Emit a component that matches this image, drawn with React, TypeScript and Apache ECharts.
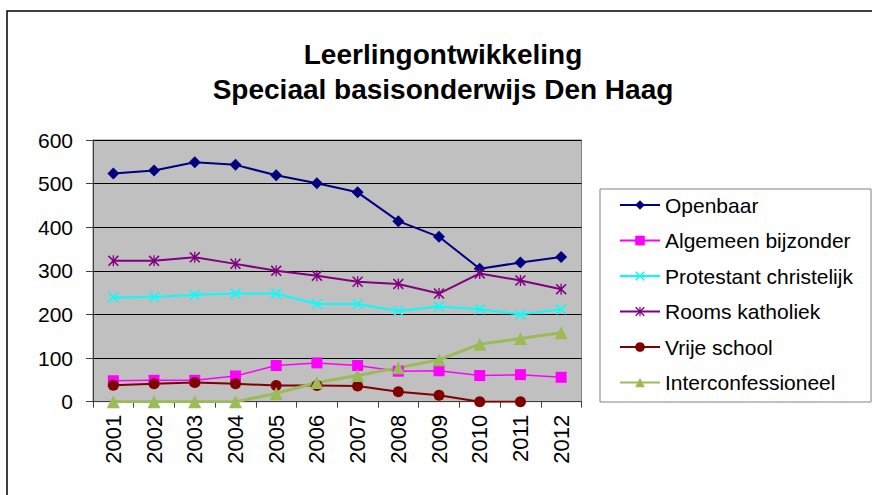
import React, { useEffect, useRef } from "react";
import * as echarts from "echarts";

const years = ["2001", "2002", "2003", "2004", "2005", "2006", "2007", "2008", "2009", "2010", "2011", "2012"];
const openbaar = [523, 530, 549, 543, 519, 501, 480, 414, 378, 305, 319, 332];
const algemeenBijzonder = [48, 49, 49, 59, 83, 89, 83, 70, 71, 60, 62, 56];
const protestantChristelijk = [239, 240, 245, 248, 248, 224, 224, 208, 218, 212, 200, 212];
const roomsKatholiek = [323, 323, 331, 316, 300, 289, 275, 270, 248, 294, 278, 258];
const vrijeSchool: (number | null)[] = [38, 41, 44, 41, 37, 37, 36, 23, 15, 0, 0, null];
const interconfessioneel = [0, 0, 0, 0, 19, 44, 60, 78, 96, 132, 145, 158];
const yTicks = { min: 0, max: 600, interval: 100 };

const FONT = "'Liberation Sans', Arial, sans-serif";
const X_SYMBOL = "path://M0,1L1,0L5,4L9,0L10,1L6,5L10,9L9,10L5,6L1,10L0,9L4,5Z";
const STAR_SYMBOL = "path://M0,1L1,0L5,4L9,0L10,1L6,5L10,9L9,10L5,6L1,10L0,9L4,5Z M4.4,0L5.6,0L5.6,10L4.4,10Z";

export default function App() {
  const ref = useRef<HTMLDivElement>(null);
  useEffect(() => {
    if (!ref.current) return;
    const chart = echarts.init(ref.current, null, { renderer: "svg" });
    const mk = (name: string, data: (number | null)[], color: string, symbol: string, symbolSize: number, width: number) => ({
      name,
      type: "line",
      data,
      symbol,
      symbolSize,
      showAllSymbol: true,
      connectNulls: false,
      lineStyle: { color, width },
      itemStyle: { color, borderWidth: 0 },
      emphasis: { disabled: true },
    });
    chart.setOption({
      animation: false,
      backgroundColor: "#ffffff",
      textStyle: { fontFamily: FONT },
      title: {
        text: "Leerlingontwikkeling\nSpeciaal basisonderwijs Den Haag",
        left: 438,
        top: 32,
        textAlign: "center",
        textStyle: { fontFamily: FONT, fontSize: 28, fontWeight: "bold", lineHeight: 35, color: "#000" },
      },
      graphic: [
        { type: "rect", shape: { x: 7, y: 11, width: 900, height: 600 }, style: { fill: "none", stroke: "#000", lineWidth: 1.5 }, silent: true },
        { type: "rect", shape: { x: 600, y: 189, width: 271, height: 213 }, style: { fill: "#fff", stroke: "#808080", lineWidth: 1 }, silent: true, z: -1 },
      ],
      legend: {
        orient: "vertical",
        left: 619,
        top: 193,
        padding: 0,
        itemGap: 11.5,
        itemWidth: 40,
        itemHeight: 12,
        textStyle: { fontFamily: FONT, fontSize: 21, color: "#000", lineHeight: 24 },
        data: ["Openbaar", "Algemeen bijzonder", "Protestant christelijk", "Rooms katholiek", "Vrije school", "Interconfessioneel"],
      },
      grid: {
        left: 93,
        top: 140,
        right: 290.5,
        bottom: 93.3,
        show: true,
        backgroundColor: "#C0C0C0",
        borderColor: "#808080",
        borderWidth: 1,
      },
      xAxis: {
        type: "category",
        data: years,
        boundaryGap: true,
        axisLine: { lineStyle: { color: "#404040", width: 1 } },
        axisTick: { show: true, length: 6, lineStyle: { color: "#404040" } },
        axisLabel: { rotate: 90, margin: 13, fontSize: 22, color: "#000", fontFamily: FONT },
        splitLine: { show: false },
      },
      yAxis: {
        type: "value",
        min: yTicks.min,
        max: yTicks.max,
        interval: yTicks.interval,
        axisLine: { show: true, lineStyle: { color: "#404040", width: 1 } },
        axisTick: { show: true, length: 7, lineStyle: { color: "#404040" } },
        axisLabel: { margin: 20, fontSize: 21, color: "#000", fontFamily: FONT },
        splitLine: { show: true, lineStyle: { color: "#000", width: 1 } },
      },
      series: [
        mk("Openbaar", openbaar, "#000080", "diamond", 12, 2),
        mk("Algemeen bijzonder", algemeenBijzonder, "#FF00FF", "rect", 11, 1.5),
        mk("Protestant christelijk", protestantChristelijk, "#00FFFF", X_SYMBOL, 11, 2),
        mk("Rooms katholiek", roomsKatholiek, "#800080", STAR_SYMBOL, 11, 2),
        mk("Vrije school", vrijeSchool, "#800000", "circle", 11, 2),
        mk("Interconfessioneel", interconfessioneel, "#9BBB59", "triangle", 13, 3),
      ],
    });
    return () => chart.dispose();
  }, []);
  return <div ref={ref} style={{ position: "fixed", left: 0, top: 0, width: 872, height: 495 }} />;
}
